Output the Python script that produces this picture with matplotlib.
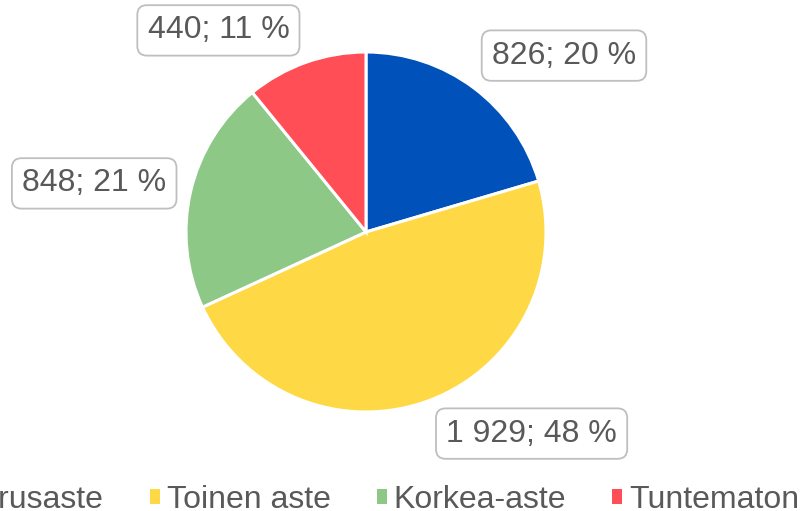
import matplotlib.pyplot as plt
from matplotlib.patches import Patch

plt.rcParams['font.family'] = ['Liberation Sans', 'DejaVu Sans']

categories = ["Perusaste", "Toinen aste", "Korkea-aste", "Tuntematon"]
values = [826, 1929, 848, 440]
percents = [20, 48, 21, 11]
value_labels = ["826", "1 929", "848", "440"]
colors = ["#0051BA", "#FFD945", "#8DC887", "#FF4E56"]

# label box centres (data coords, pie radius 1)
label_pos = [(1.10, 0.98), (0.92, -1.12), (-1.51, 0.27), (-0.82, 1.12)]

W, H = 807, 511
fig = plt.figure(figsize=(W / 100, H / 100), dpi=100)
cx, cy, r = 366, 232, 180
ax = fig.add_axes([(cx - r) / W, (H - cy - r) / H, 2 * r / W, 2 * r / H])

wedges, _ = ax.pie(values, colors=colors, startangle=90, counterclock=False,
                   wedgeprops=dict(edgecolor="white", linewidth=2.2), radius=1)
ax.set_xlim(-1, 1)
ax.set_ylim(-1, 1)
ax.set_aspect("equal")
ax.axis("off")

for (x, y), v, p in zip(label_pos, value_labels, percents):
    ax.text(x, y, f"{v}; {p} %", ha="center", va="center", fontsize=23,
            color="#595959", clip_on=False,
            bbox=dict(boxstyle="round,pad=0.32,rounding_size=0.3",
                      fc="white", ec="#BFBFBF", lw=1.3))

handles = [Patch(facecolor=c, edgecolor="none") for c in colors]
fig.legend(handles, categories, loc="center", bbox_to_anchor=(371 / W, 1 - 500 / H),
           ncol=4, frameon=False, fontsize=23, labelcolor="#595959",
           handlelength=0.32, handleheight=0.32, handletextpad=0.2,
           columnspacing=1.45, borderaxespad=0)

fig.savefig("out.png", dpi=100)
